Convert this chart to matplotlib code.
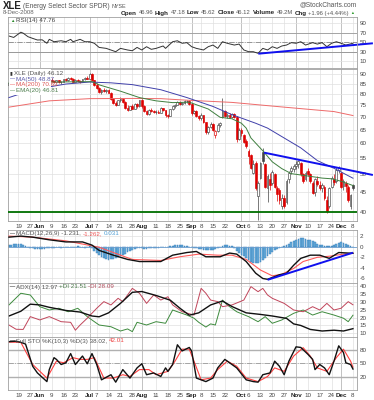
import numpy as np
import pandas as pd
import matplotlib
matplotlib.use("Agg")
import matplotlib.pyplot as plt
from matplotlib.patches import Rectangle
from matplotlib.ticker import NullLocator

plt.rcParams["font.family"] = ["Liberation Sans", "DejaVu Sans"]

# trading calendar, 13 May - 8 Dec 2008
holidays = ["2008-05-26", "2008-07-04", "2008-09-01", "2008-11-27"]
dates = pd.bdate_range("2008-05-13", "2008-12-08", freq="C", holidays=holidays)
day0 = dates.get_loc(pd.Timestamp("2008-05-19"))   # sample days below count from 19 May

tick_dates = ["2008-05-19", "2008-05-27", "2008-06-02", "2008-06-09", "2008-06-16", "2008-06-23",
              "2008-07-01", "2008-07-07", "2008-07-14", "2008-07-21", "2008-07-28", "2008-08-01",
              "2008-08-11", "2008-08-18", "2008-08-25", "2008-09-02", "2008-09-08", "2008-09-15",
              "2008-09-22", "2008-10-01", "2008-10-06", "2008-10-13", "2008-10-20", "2008-10-27",
              "2008-11-03", "2008-11-10", "2008-11-17", "2008-11-24", "2008-12-01", "2008-12-08"]
tick_text = ["19", "27", "Jun", "9", "16", "23", "Jul", "7", "14", "21", "28", "Aug", "11", "18", "25",
             "Sep", "8", "15", "22", "Oct", "6", "13", "20", "27", "Nov", "10", "17", "24", "Dec", "8"]
months = ["Jun", "Jul", "Aug", "Sep", "Oct", "Nov", "Dec"]

# daily prices
opens = [84.5, 85.6, 86.2, 85.8, 87.2, 88.0, 87.5, 86.0, 87.5, 87.0,
         84.8, 84.2, 83.6, 84.5, 83.8, 85.0, 84.0, 86.2, 87.2, 86.5,
         85.8, 86.8, 85.9, 86.2, 87.5, 86.9, 88.2, 87.4, 86.2, 87.2,
         86.4, 86.0, 87.3, 88.2, 87.8, 90.2, 86.8, 84.5, 83.0, 81.0,
         82.0, 81.5, 82.2, 80.8, 78.0, 76.0, 75.2, 77.2, 78.0, 76.4,
         74.0, 73.0, 74.5, 73.5, 75.8, 74.5, 77.2, 74.5, 72.4, 71.2,
         73.0, 72.5, 72.0, 72.2, 71.8, 73.8, 72.8, 70.8, 70.5, 73.2,
         74.6, 75.2, 76.4, 75.5, 76.0, 76.8, 77.0, 75.5, 71.8, 72.6,
         70.4, 69.5, 70.8, 67.8, 64.0, 66.2, 67.2, 63.0, 64.6, 67.0,
         70.0, 72.5, 70.4, 71.0, 70.0, 71.4, 70.2, 61.5, 65.0, 63.0,
         60.8, 57.5, 56.0, 50.5, 53.5, 44.0, 49.0, 57.0, 53.0, 46.0,
         48.5, 47.5, 50.0, 46.0, 45.5, 41.5, 43.5, 42.5, 48.5, 51.0,
         51.5, 52.5, 53.0, 53.5, 50.0, 48.5, 51.0, 50.0, 47.5, 45.0,
         48.0, 47.0, 46.0, 46.5, 43.0, 41.5, 46.5, 48.5, 48.0, 51.2,
         50.5, 46.8, 47.5, 46.5, 41.5, 46.96]
highs = [86.0, 86.5, 87.0, 87.5, 88.5, 89.0, 88.2, 87.8, 88.0, 87.2,
         85.5, 85.0, 84.8, 85.0, 85.5, 85.5, 86.5, 87.5, 88.0, 87.2,
         87.0, 87.2, 86.5, 87.8, 88.2, 88.5, 88.8, 88.0, 87.5, 87.8,
         87.0, 87.6, 88.5, 89.0, 90.8, 90.5, 87.0, 85.5, 83.5, 82.5,
         83.0, 82.5, 82.5, 81.0, 78.5, 77.0, 77.5, 78.6, 78.2, 76.8,
         75.0, 74.8, 75.5, 76.0, 76.2, 77.5, 77.8, 75.0, 73.0, 73.5,
         73.8, 73.0, 72.8, 73.0, 74.2, 74.0, 73.0, 71.2, 73.5, 75.0,
         75.5, 76.8, 76.8, 76.5, 77.2, 77.5, 77.2, 76.0, 73.0, 72.8,
         71.0, 71.5, 71.0, 68.0, 66.5, 67.8, 67.5, 65.0, 67.5, 68.0,
         78.5, 72.8, 71.5, 71.5, 71.8, 71.6, 70.5, 65.5, 65.5, 63.5,
         61.5, 58.0, 56.5, 54.5, 54.0, 48.0, 53.8, 58.3, 53.5, 50.0,
         50.5, 51.2, 50.5, 46.8, 46.0, 44.5, 44.2, 48.5, 51.0, 52.5,
         53.0, 54.2, 54.5, 53.8, 50.5, 51.0, 52.0, 50.5, 48.0, 49.0,
         49.5, 48.0, 47.5, 47.0, 44.0, 46.5, 49.5, 50.0, 52.3, 52.5,
         50.8, 48.5, 48.0, 47.0, 44.5, 47.18]
lows = [84.0, 85.0, 85.5, 85.5, 86.8, 87.0, 85.8, 85.9, 86.5, 84.5,
        83.5, 83.0, 83.0, 83.2, 83.5, 83.8, 83.8, 85.8, 86.0, 85.4,
        85.5, 85.5, 85.0, 86.0, 86.5, 86.5, 87.0, 85.8, 85.8, 86.0,
        85.5, 85.8, 86.8, 87.5, 87.5, 86.5, 84.0, 82.5, 80.5, 80.0,
        81.2, 80.5, 80.5, 77.5, 75.5, 74.5, 75.0, 76.5, 76.0, 73.5,
        72.5, 72.8, 73.2, 73.2, 74.0, 74.3, 74.0, 72.0, 70.8, 71.0,
        72.0, 71.5, 71.2, 71.5, 71.5, 72.5, 70.2, 69.8, 70.3, 73.0,
        74.0, 75.0, 75.0, 75.2, 75.5, 76.0, 75.0, 71.0, 71.2, 70.0,
        69.0, 69.0, 67.5, 63.5, 63.5, 65.5, 64.5, 62.0, 64.0, 66.0,
        69.8, 70.0, 69.8, 69.5, 69.5, 69.5, 60.5, 61.0, 62.5, 60.0,
        58.5, 53.0, 51.5, 50.0, 45.5, 38.3, 48.5, 53.0, 46.0, 42.5,
        45.5, 47.0, 46.0, 42.8, 42.0, 40.8, 41.0, 42.0, 47.5, 50.0,
        50.8, 51.5, 52.0, 49.5, 47.5, 48.0, 49.5, 47.5, 44.5, 44.0,
        46.8, 45.5, 45.0, 43.0, 39.8, 41.0, 46.0, 47.0, 47.5, 50.5,
        46.0, 45.5, 45.0, 42.5, 40.8, 45.62]
closes = [85.6, 86.2, 85.8, 87.2, 88.0, 87.5, 86.0, 87.5, 87.0, 84.8,
          84.2, 83.6, 84.5, 83.8, 85.0, 84.0, 86.2, 87.2, 86.5, 85.8,
          86.8, 85.9, 86.2, 87.5, 86.9, 88.2, 87.4, 86.2, 87.2, 86.4,
          86.0, 87.3, 88.2, 87.8, 90.2, 86.8, 84.5, 83.0, 81.0, 82.0,
          81.5, 82.2, 80.8, 78.0, 76.0, 75.2, 77.2, 78.0, 76.4, 74.0,
          73.0, 74.5, 73.5, 75.8, 74.5, 77.2, 74.5, 72.4, 71.2, 73.0,
          72.5, 72.0, 72.2, 71.8, 73.8, 72.8, 70.8, 70.5, 73.2, 74.6,
          75.2, 76.4, 75.5, 76.0, 76.8, 77.0, 75.5, 71.8, 72.6, 70.4,
          69.5, 70.8, 67.8, 64.0, 66.2, 67.2, 65.0, 64.6, 67.0, 67.5,
          72.5, 70.4, 71.0, 70.0, 71.4, 70.2, 61.5, 65.0, 63.8, 60.4,
          59.0, 55.8, 51.8, 53.0, 46.0, 47.5, 53.5, 54.0, 46.4, 49.5,
          47.0, 50.8, 46.5, 44.5, 43.0, 43.5, 41.6, 48.0, 50.5, 51.8,
          52.5, 53.0, 54.0, 50.0, 48.0, 50.5, 50.2, 48.0, 44.8, 48.6,
          47.2, 46.0, 47.0, 43.4, 40.2, 46.0, 48.8, 47.8, 51.2, 52.0,
          46.4, 48.0, 46.8, 43.0, 44.16, 46.12]

# moving averages (read at sample days)
ma50_day = [-4, 6, 20, 30, 39, 48, 60, 71, 82, 90, 100, 105, 112, 119, 126, 133, 141]
ma50 = [78.5, 82.2, 85.0, 86.0, 85.6, 84.7, 82.2, 78.5, 74.5, 71.0, 67.5, 65.6, 61.9, 58.4, 54.2, 51.8, 48.87]
ma200_day = [-4, 13, 30, 48, 60, 71, 90, 112, 133, 141]
ma200 = [74.2, 77.0, 78.0, 78.1, 78.0, 77.3, 76.3, 74.2, 72.3, 70.63]
ema20_day = [-4, 14, 31, 34, 43, 51, 58, 65, 72, 80, 85, 90, 94, 96, 98, 103, 107, 111, 115, 120,
             124, 128, 132, 136, 141]
ema20 = [85.5, 86.0, 86.2, 84.6, 81.5, 78.5, 77.0, 76.2, 76.4, 73.4, 69.9, 69.3, 67.5, 65.6, 61.9,
         57.4, 53.8, 51.7, 50.2, 49.7, 49.3, 48.9, 48.7, 48.0, 46.81]

# RSI(14)
rsi_day = [-4, -2, 1, 2, 4, 6, 8, 10, 12, 13, 15, 18, 20, 22, 23, 26, 28, 30, 32, 34,
           37, 41, 43, 46, 48, 50, 52, 54, 56, 58, 61, 62, 65, 67, 69, 71, 73, 75, 78, 80,
           82, 84, 86, 88, 91, 93, 95, 97, 99, 101, 103, 105, 107, 109, 111, 113, 115, 117, 119, 121,
           124, 126, 128, 130, 132, 134, 136, 138, 141]
rsi = [63, 60, 71, 69, 61.6, 58, 54.6, 55, 47.7, 56, 51, 53, 51, 56, 51, 56, 51, 51, 47.7, 39,
       37, 30, 37, 33.6, 32, 39, 33.6, 40.5, 35, 37, 42, 37, 51, 53, 47.7, 49, 40.5, 37, 33.6, 40.5,
       44, 37, 51, 47.7, 44, 46, 33.6, 30, 30, 26.6, 37, 33.6, 40.5, 37, 42, 44, 49, 47.7, 51, 44,
       49, 46, 49, 40.5, 47.7, 51, 47.7, 44, 47.76]

# MACD(12,26,9)
macd_day = [-4, 1, 6, 13, 20, 27, 31, 34, 40, 46, 51, 60, 65, 71, 75, 79, 85, 89, 92, 96,
            100, 103, 105, 110, 113, 116, 119, 123, 127, 131, 135, 139, 141]
macd = [1.8, 2.0, 1.8, 1.3, 0.9, 0.9, 0.3, -0.7, -1.6, -2.4, -2.8, -2.8, -1.6, -1.1, -0.9, -1.9,
        -1.9, -1.2, -1.4, -2.8, -5.0, -6.0, -6.15, -5.3, -5.0, -3.5, -2.2, -1.6, -1.6, -2.2,
        -1.1, -1.2, -1.231]
signal_day = [-4, 6, 20, 34, 43, 48, 60, 68, 76, 84, 90, 96, 102, 107, 111, 116, 120, 126, 131, 137, 141]
signal = [2.0, 1.8, 1.1, -0.1, -1.6, -2.4, -2.6, -1.9, -1.4, -1.6, -1.6, -2.4, -4.4, -5.5, -5.2,
          -4.1, -2.8, -2.0, -1.8, -1.4, -1.262]
hist = [0.3, 0.4, 0.5, 0.5,
        0.6, 0.5, 0.4, 0.2, 0.0,
        -0.2, -0.3, -0.4, -0.5, -0.5, -0.4, -0.4, -0.3, -0.3, -0.2, -0.2,
        -0.1, -0.1, -0.2, -0.1, 0.0, -0.1, -0.1, -0.1, 0.0, 0.1, 0.0, -0.1, -0.2, -0.1, 0.1,
        -0.3, -0.8, -1.2, -1.6, -2.0, -2.2, -2.4, -2.5, -2.4, -2.3, -2.2, -2.0, -1.8, -1.5, -1.3,
        -1.0, -0.8, -0.6, -0.4, -0.2,
        -0.2, -0.3, -0.4, -0.4, -0.3, -0.3, -0.2, -0.2, -0.2, -0.1, -0.1, -0.1, 0.0,
        0.1, 0.2, 0.3, 0.4, 0.4, 0.3, 0.2, 0.1,
        0.0, -0.1, -0.2, -0.3, -0.4,
        -0.5, -0.6, -0.7, -0.7, -0.6, -0.6, -0.5, -0.3, -0.1,
        0.2, 0.3, 0.3, 0.2, 0.1,
        -0.3, -0.8, -1.2, -1.5, -1.8, -2.2, -2.5, -2.8, -3.0, -3.1, -3.0, -2.8, -2.5, -2.2, -1.8,
        -1.4, -1.0, -0.7, -0.4, -0.2,
        0.0, 0.1, 0.3, 0.5, 0.8,
        1.1, 1.3, 1.5, 1.6, 1.6, 1.5, 1.3, 1.2, 1.0, 0.8, 0.6, 0.4, 0.3,
        0.2, 0.1, 0.1, 0.2, 0.3,
        0.5, 0.7, 0.8, 0.7, 0.5, 0.3, 0.1, 0.03]

# ADX(14), +DI, -DI
adx_day = [-4, 1, 5, 9, 13, 20, 26, 31, 34, 38, 43, 48, 52, 58, 64, 68, 72, 76, 81, 86,
           90, 96, 102, 107, 113, 116, 119, 123, 128, 133, 137, 141]
adx = [21, 24, 28.5, 28, 26.5, 24.5, 23.5, 21, 20.5, 23, 29, 36, 36.5, 34, 31, 26, 21.5, 23, 28, 30.5,
       27, 23, 22, 21, 19.5, 16, 15, 12.5, 11.5, 12.0, 11.5, 12.97]
pdi_day = [-4, 1, 5, 9, 13, 17, 21, 25, 29, 32, 34, 39, 43, 46, 48, 50, 54, 58, 62, 65,
           67, 71, 74, 76, 79, 81, 83, 86, 88, 92, 97, 101, 104, 107, 111, 116, 120, 124, 128, 133,
           137, 139, 141]
pdi = [28, 35.4, 34.3, 26.9, 24.8, 25.9, 23.7, 25.9, 20.6, 17.4, 15.3, 14.2, 11.5, 12.8, 11.1, 17,
       15.3, 17.4, 16.4, 24.8, 23.7, 21.6, 19.6, 17, 14, 16, 15.3, 31.1, 28, 23.7, 20.6, 17.4, 20.6,
       16.4, 18.5, 22.7, 24.8, 21.6, 23.7, 21.6, 19.6, 17.4, 21.51]
mdi_day = [-4, -1, 2, 5, 9, 13, 18, 22, 24, 26, 29, 33, 36, 39, 42, 44, 48, 51, 54, 57,
           60, 63, 65, 69, 74, 77, 79, 81, 84, 86, 90, 95, 98, 101, 103, 105, 107, 112, 116, 120,
           124, 127, 130, 133, 136, 139, 141]
mdi = [15.3, 12.6, 12.5, 20.6, 18.5, 20.6, 17.4, 17, 12, 15.3, 19.6, 25.9, 30.1, 28, 32.2, 30.1,
       38.5, 35.4, 29, 34.3, 31.1, 33.2, 28, 23.7, 21.6, 38.5, 35.4, 31.1, 30.1, 26.9, 28, 31.1,
       39.6, 36.4, 38.5, 34.3, 32.2, 29, 24.8, 23.7, 26.9, 24.8, 29, 24.8, 25.9, 30.1, 28.09]

# Full STO %K(10,3) %D(3)
k_day = [-4, -1, 1, 3, 6, 8, 12, 13, 15, 16, 18, 20, 22, 24, 27, 29, 31, 33, 35, 39,
         41, 44, 47, 50, 52, 54, 57, 60, 62, 63, 65, 67, 69, 72, 73, 75, 79, 82, 84, 87,
         90, 92, 96, 99, 101, 103, 106, 108, 110, 112, 114, 117, 119, 122, 124, 125, 127, 129, 131, 133,
         135, 137, 138, 140, 141]
stoch_k = [97, 98, 95.5, 91.8, 44, 29.6, 11, 36.8, 62.5, 58.8, 47.8, 51.5, 71.3, 47.8, 66, 49.3,
           71.3, 47.8, 14.8, 25.8, 9.8, 36.8, 18.6, 40.5, 49.3, 25.8, 29.6, 22, 40.5, 33, 47.8, 90.2,
           77, 84.5, 77, 18.6, 11, 18.6, 40.5, 58.8, 47.8, 40.5, 14.8, 11, 9.8, 25.8, 29.6, 55, 44,
           25.8, 55, 85.8, 84.5, 69.8, 58.8, 36.8, 47.8, 40.5, 25.8, 55, 88, 73.5, 51.5, 47.8, 38.02]
d_day = [-4, 1, 6, 12, 16, 19, 23, 26, 29, 32, 36, 40, 44, 47, 51, 55, 58, 63, 66, 69,
         72, 74, 77, 81, 84, 88, 92, 96, 101, 105, 108, 112, 116, 120, 123, 126, 130, 134, 137, 140, 141]
stoch_d = [96, 95.5, 47.8, 18.6, 55, 51.5, 62.5, 58.8, 58.8, 62.5, 18.6, 18.6, 25.8, 22, 36.8, 36.8,
           25.8, 33, 55, 80.8, 80.8, 55, 14.8, 18.6, 36.8, 55, 44, 18.6, 11, 22, 40.5, 33, 66, 84,
           66, 40.5, 33, 62.5, 80.8, 55, 42.01]

# hand-drawn trend lines (day, value)
price_trend_day, price_trend = [103.5, 149.4], [56.8, 49.8]
rsi_trend_day, rsi_trend = [101.1, 149.4], [25.8, 47.7]
macd_trend_day, macd_trend = [105, 141], [-6.25, -1.13]
support_level = 40

W, H = 374.0, 400.0
L, R = 8.0, 357.0
fig = plt.figure(figsize=(W / 100, H / 100), dpi=100)
renderer = fig.canvas.get_renderer()
tick_x = [dates.get_loc(pd.Timestamp(d)) for d in tick_dates]
n = len(closes)


def sx(days):
    return day0 + np.asarray(days, dtype=float)


def panel(top, bottom, yticks, ylim, log=False):
    ax = fig.add_axes([L / W, 1 - bottom / H, (R - L) / W, (bottom - top) / H])
    if log:
        ax.set_yscale("log")
    ax.set_ylim(*ylim)
    ax.set_xlim(-0.4, n + 0.7)
    for s in ax.spines.values():
        s.set_color("#a0a0a0")
        s.set_linewidth(0.6)
    ax.yaxis.tick_right()
    ax.yaxis.set_minor_locator(NullLocator())
    ax.set_yticks(yticks)
    ax.set_yticklabels([str(t) for t in yticks])
    ax.tick_params(axis="both", length=0, labelsize=4.5, colors="#444444", pad=1.8)
    ax.set_xticks(tick_x)
    ax.set_xticklabels([])
    for xv, lab in zip(tick_x, tick_text):
        m = lab in months
        ax.axvline(xv, color="#b8b8b8" if m else "#e0e0e0", lw=0.6 if m else 0.5, zorder=0)
    for t in yticks:
        ax.axhline(t, color="#e0e0e0", lw=0.5, zorder=0)
    return ax


def date_labels(ax):
    # baseline-aligned so bold month names sit level with the day numbers
    ax.tick_params(axis="x", pad=5.0)
    ax.set_xticklabels(tick_text)
    for lab in ax.get_xticklabels():
        lab.set_verticalalignment("baseline")
        if lab.get_text() in months:
            lab.set_fontweight("bold")
            lab.set_color("#222222")


def ftext(px, py, s, **kw):
    kw.setdefault("fontsize", 4.5)
    kw.setdefault("color", "#444444")
    return fig.text(px / W, 1 - py / H, s, va="center", **kw)


def chain(px, py, parts, gap=1.6):
    # place text pieces one after another on a row
    for s, kw in parts:
        t = ftext(px, py, s, **kw)
        bb = t.get_window_extent(renderer)
        px = bb.x1 + gap


# RSI panel
ax_rsi = panel(17, 68, [10, 30, 50, 70, 90], (-4.3, 103))
ax_rsi.axhline(70, color="#999999", lw=0.6)
ax_rsi.axhline(30, color="#999999", lw=0.7)
ax_rsi.axhline(50, color="#888888", lw=0.6, ls="-.")
ax_rsi.plot(sx(rsi_day), rsi, color="#333333", lw=0.7)
ax_rsi.plot(sx(rsi_trend_day), rsi_trend, color="#1010ee", lw=1.4, clip_on=False, solid_capstyle="butt")

# price panel
ax_p = panel(69, 221, list(range(40, 95, 5)), (38.0, 92.85), log=True)
o, h, l, c = (np.asarray(a) for a in (opens, highs, lows, closes))
prev = np.r_[c[0], c[:-1]]
for i in range(n):
    col = "#dd0000" if c[i] < prev[i] else "#444444"
    ax_p.vlines(i, l[i], h[i], color=col, lw=0.5, zorder=2)
    lo, hi = min(o[i], c[i]), max(o[i], c[i])
    if hi - lo < 0.15:
        hi = lo + 0.15
    face = "white" if c[i] > o[i] else col
    ax_p.add_patch(Rectangle((i - 0.38, lo), 0.76, hi - lo, facecolor=face, edgecolor=col,
                             lw=0.45, zorder=3))
ax_p.plot(sx(ma200_day), ma200, color="#ee6a6a", lw=0.7, zorder=4)
ax_p.plot(sx(ma50_day), ma50, color="#4040aa", lw=0.7, zorder=4)
ax_p.plot(sx(ema20_day), ema20, color="#3f7f3f", lw=0.7, zorder=4)
ax_p.axhline(support_level, color="#007000", lw=1.3, zorder=5)
ax_p.plot(sx(price_trend_day), price_trend, color="#1010ee", lw=1.4, clip_on=False, zorder=6,
          solid_capstyle="butt")
date_labels(ax_p)

# MACD panel
ax_m = panel(230, 283, [-6, -4, -2, 0, 2], (-6.85, 3.15))
ax_m.bar(np.arange(n), hist, width=0.75, color="#6aaedc", edgecolor="#2f78b5", lw=0.3, zorder=2)
ax_m.axhline(0, color="#6d9fd0", lw=0.6, zorder=2)
ax_m.plot(sx(signal_day), signal, color="#ff5a5a", lw=0.8, zorder=3)
ax_m.plot(sx(macd_day), macd, color="#111111", lw=1.0, zorder=4)
ax_m.plot(sx(macd_trend_day), macd_trend, color="#1010ee", lw=1.4, zorder=5, solid_capstyle="butt")

# ADX panel
ax_a = panel(283, 337, [10, 15, 20, 25, 30, 35, 40], (7.7, 41.9))
ax_a.plot(sx(pdi_day), pdi, color="#3d8a3d", lw=0.7)
ax_a.plot(sx(mdi_day), mdi, color="#c0455a", lw=0.7)
ax_a.plot(sx(adx_day), adx, color="#111111", lw=1.0)

# Stochastics panel
ax_s = panel(337, 390, [20, 50, 80], (-7.1, 107))
ax_s.axhline(80, color="#b0b0b0", lw=1.0)
ax_s.axhline(20, color="#b0b0b0", lw=1.0)
ax_s.axhline(50, color="#999999", lw=0.6, ls="-.")
ax_s.plot(sx(d_day), stoch_d, color="#ff4040", lw=0.8)
ax_s.plot(sx(k_day), stoch_k, color="#111111", lw=1.0)
date_labels(ax_s)

# header
bold = {"fontweight": "bold", "color": "#222222", "fontsize": 4.5}
val = {"color": "#555555", "fontsize": 4.2}
chain(3, 6, [("XLE", {"fontsize": 7, "fontweight": "bold", "color": "#222222"}),
             ("(Energy Select Sector SPDR)", {"fontsize": 4.8, "color": "#555555"}),
             ("NYSE", {"fontsize": 3.9, "color": "#555555"})], gap=1.5)
ftext(3, 13, "8-Dec-2008", fontsize=4.4, color="#666666")
ftext(357, 5, "@StockCharts.com", fontsize=4.8, color="#555555", ha="right")
chain(121, 13, [("Open", bold), ("46.96", val), ("High", bold), ("47.18", val),
                ("Low", bold), ("45.62", val), ("Close", bold), ("46.12", val),
                ("Volume", bold), ("49.2M", val), ("Chg", bold), ("+1.96 (+4.44%)", val),
                ("\u25b2", {"fontsize": 2.8, "color": "#2a9a2a"})], gap=1.7)

# panel labels
chain(10, 20.5, [("\u25b2", {"fontsize": 3.2, "color": "#2a8a2a"}), ("RSI(14) 47.76", {})])

fig.add_artist(Rectangle((8.6 / W, 1 - 95 / H), 42 / W, 25.6 / H, transform=fig.transFigure,
                         facecolor="white", edgecolor="none", zorder=1))
chain(9.5, 73, [("\u25ae", {"fontsize": 3.6, "color": "#333333"}), ("XLE (Daily) 46.12", {"color": "#555555"})])
chain(9.5, 79, [("\u2014", {"fontsize": 3.6, "color": "#4040aa"}), ("MA(50) 48.87", {"color": "#5a5aa8"})])
chain(9.5, 84.7, [("\u2014", {"fontsize": 3.6, "color": "#ee4444"}), ("MA(200) 70.63", {"color": "#dd5555"})])
chain(9.5, 90.5, [("\u2014", {"fontsize": 3.6, "color": "#3f7f3f"}), ("EMA(20) 46.81", {"color": "#4f7f4f"})])

chain(9.5, 233.5, [("\u2014", {"fontsize": 3.6, "color": "#111111"}),
                   ("MACD(12,26,9) -1.231,", {"color": "#555555"}),
                   ("-1.262,", {"color": "#ee5555"}), ("0.031", {"color": "#4f9fd5"})])
chain(9.5, 287, [("\u2014", {"fontsize": 3.6, "color": "#111111"}),
                 ("ADX(14) 12.97", {"color": "#555555"}),
                 ("+DI 21.51", {"color": "#4a7a4a"}), ("-DI 28.09", {"color": "#b04a5a"})])
chain(9.5, 341, [("\u2014", {"fontsize": 3.6, "color": "#111111"}),
                 ("Full STO %K(10,3) %D(3) 38.02,", {"color": "#555555"}),
                 ("42.01", {"color": "#ee4444"})])

fig.savefig("out.png", dpi=100, facecolor="white")
